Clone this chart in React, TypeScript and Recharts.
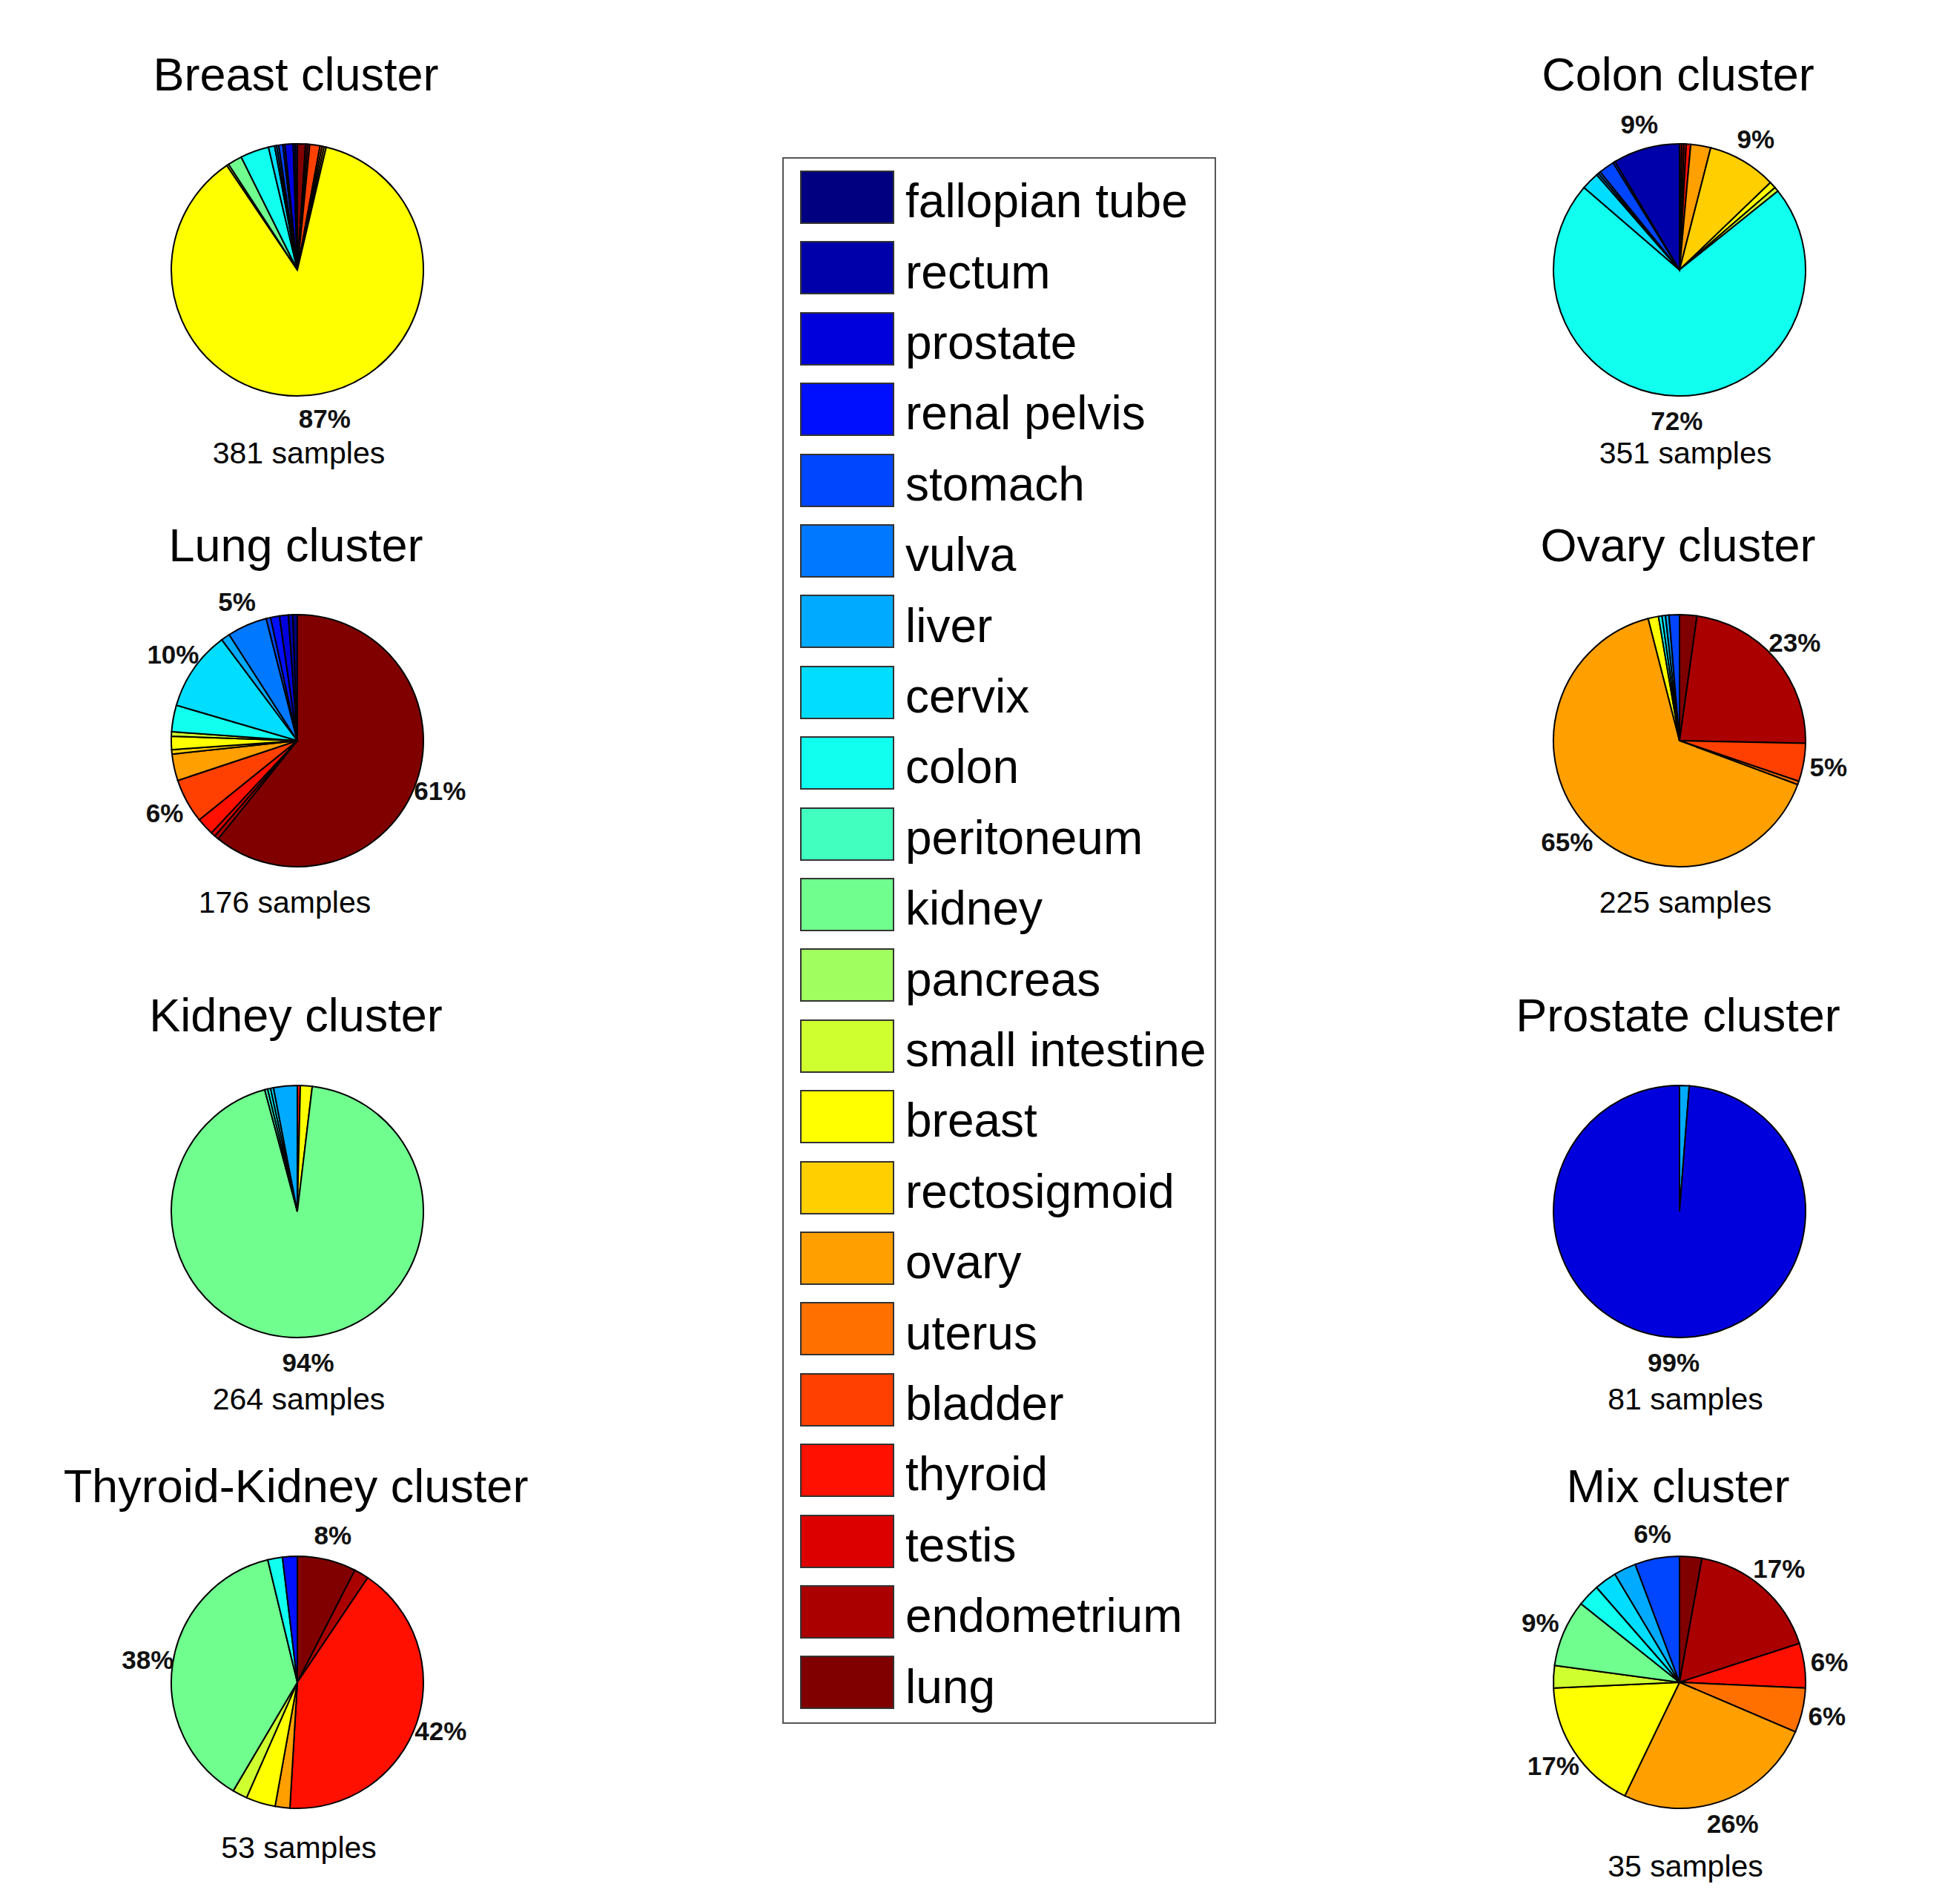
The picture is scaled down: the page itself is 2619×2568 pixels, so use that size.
import React from "react";
import { PieChart, Pie, Cell } from "recharts";

// legend order, top to bottom (pies run the other way: lung first, clockwise from 12 o'clock)
const TISSUES = [
  "fallopian tube", "rectum", "prostate", "renal pelvis", "stomach", "vulva",
  "liver", "cervix", "colon", "peritoneum", "kidney", "pancreas",
  "small intestine", "breast", "rectosigmoid", "ovary", "uterus", "bladder",
  "thyroid", "testis", "endometrium", "lung",
];

const COLORS = [
  "#000080", "#0000AA", "#0000DD", "#0010FF", "#0045FF", "#0078FF",
  "#00AAFF", "#00DDFF", "#10FFEF", "#40FFBF", "#70FF8F", "#A0FF5F",
  "#D0FF2F", "#FFFF00", "#FFCF00", "#FF9F00", "#FF7000", "#FF4000",
  "#FF1000", "#DD0000", "#AA0000", "#800000",
];

// sample counts per tissue, same order as TISSUES
const BREAST = [1, 1, 4, 1, 2, 1, 1, 3, 14, 0, 7, 0, 1, 331, 1, 1, 1, 5, 0, 1, 1, 4];
const LUNG = [1, 1, 2, 2, 1, 9, 2, 18, 6, 0, 0, 0, 1, 3, 1, 6, 0, 10, 4, 1, 1, 107];
const KIDNEY = [0, 0, 0, 0, 0, 0, 8, 1, 1, 1, 248, 0, 0, 4, 0, 0, 0, 0, 1, 0, 0, 0];
const THYROID_KIDNEY = [0, 0, 0, 1, 0, 0, 0, 0, 1, 0, 20, 0, 1, 2, 0, 1, 0, 0, 22, 0, 1, 4];
const COLON = [0, 30, 0, 1, 7, 1, 1, 8, 253, 0, 0, 0, 2, 3, 31, 9, 0, 0, 2, 1, 1, 1];
const OVARY = [0, 0, 0, 0, 3, 0, 1, 1, 1, 0, 0, 0, 0, 3, 0, 147, 1, 11, 0, 0, 52, 5];
const PROSTATE = [0, 0, 80, 0, 0, 0, 1, 0, 0, 0, 0, 0, 0, 0, 0, 0, 0, 0, 0, 0, 0, 0];
const MIX = [0, 0, 0, 0, 2, 0, 1, 1, 1, 0, 3, 0, 1, 6, 0, 9, 2, 0, 2, 0, 6, 1];

const TITLES = [
  "Breast cluster", "Lung cluster", "Kidney cluster", "Thyroid-Kidney cluster",
  "Colon cluster", "Ovary cluster", "Prostate cluster", "Mix cluster",
];
const COUNTS = [BREAST, LUNG, KIDNEY, THYROID_KIDNEY, COLON, OVARY, PROSTATE, MIX];

// layout only
const COL_X = [401, 2265];
const ROW_Y = [364, 999, 1634, 2269];
const TITLE_Y = [100, 735, 1369, 2004];
const SAMPLES_Y = [
  [611, 1217, 1887, 2492],
  [611, 1217, 1887, 2517],
];
const SAMPLES_DX = [2, -17, 2, 2, 8, 8, 8, 8];
const R = 170;
const W = 700;
const H = 620;
const FONT = "'Liberation Sans', Arial, Helvetica, sans-serif";
const RAD = Math.PI / 180;

function slices(counts: number[]) {
  return counts
    .map((v, i) => ({ name: TISSUES[i], value: v, color: COLORS[i] }))
    .filter((d) => d.value > 0)
    .reverse();
}

function pctLabel(p: any) {
  const pct = Math.round(p.percent * 100);
  if (pct < 5) return null;
  const r = p.outerRadius * 1.2;
  const x = p.cx + r * Math.cos(-p.midAngle * RAD);
  const y = p.cy + r * Math.sin(-p.midAngle * RAD);
  return (
    <text
      x={x}
      y={y}
      textAnchor="middle"
      dominantBaseline="central"
      fontSize={35}
      fontWeight="bold"
      fontFamily={FONT}
      fill="#111"
    >
      {pct}%
    </text>
  );
}

function Label({ x, y, size, children }: any) {
  return (
    <div
      style={{
        position: "absolute",
        left: x,
        top: y - size * 0.49,
        transform: "translateX(-50%)",
        fontSize: size,
        lineHeight: 1,
        whiteSpace: "nowrap",
        color: "#000",
      }}
    >
      {children}
    </div>
  );
}

function ClusterPie({ idx }: { idx: number }) {
  const col = idx < 4 ? 0 : 1;
  const row = idx % 4;
  const cx = COL_X[col];
  const cy = ROW_Y[row];
  const counts = COUNTS[idx];
  const total = counts.reduce((a, b) => a + b, 0);
  const data = slices(counts);
  return (
    <>
      <Label x={cx - 2} y={TITLE_Y[row]} size={63}>
        {TITLES[idx]}
      </Label>
      <div style={{ position: "absolute", left: cx - W / 2, top: cy - H / 2 }}>
        <PieChart width={W} height={H} margin={{ top: 0, right: 0, bottom: 0, left: 0 }}>
          <Pie
            data={data}
            dataKey="value"
            cx={W / 2}
            cy={H / 2}
            outerRadius={R}
            startAngle={90}
            endAngle={-270}
            stroke="#000"
            strokeWidth={2}
            labelLine={false}
            label={pctLabel}
            isAnimationActive={false}
          >
            {data.map((d, i) => (
              <Cell key={i} fill={d.color} />
            ))}
          </Pie>
        </PieChart>
      </div>
      <Label x={cx + SAMPLES_DX[idx]} y={SAMPLES_Y[col][row]} size={41}>
        {total} samples
      </Label>
    </>
  );
}

function TissueLegend() {
  return (
    <div
      style={{
        position: "absolute",
        left: 1055,
        top: 212,
        width: 585,
        height: 2113,
        border: "2px solid #555",
        boxSizing: "border-box",
        background: "#fff",
      }}
    >
      {TISSUES.map((t, i) => (
        <div key={t}>
          <div
            style={{
              position: "absolute",
              left: 22,
              top: 16 + i * 95.4,
              width: 127,
              height: 72,
              background: COLORS[i],
              border: "2px solid #333",
              boxSizing: "border-box",
            }}
          />
          <div
            style={{
              position: "absolute",
              left: 164,
              top: 16 + i * 95.4 + 36 - 64 * 0.42,
              fontSize: 64,
              lineHeight: 1,
              whiteSpace: "nowrap",
              color: "#000",
            }}
          >
            {t}
          </div>
        </div>
      ))}
    </div>
  );
}

export default function App() {
  return (
    <div
      style={{
        position: "absolute",
        left: 0,
        top: 0,
        width: 2619,
        height: 2568,
        background: "#fff",
        fontFamily: FONT,
        overflow: "hidden",
      }}
    >
      {TITLES.map((_, i) => (
        <ClusterPie key={i} idx={i} />
      ))}
      <TissueLegend />
    </div>
  );
}
